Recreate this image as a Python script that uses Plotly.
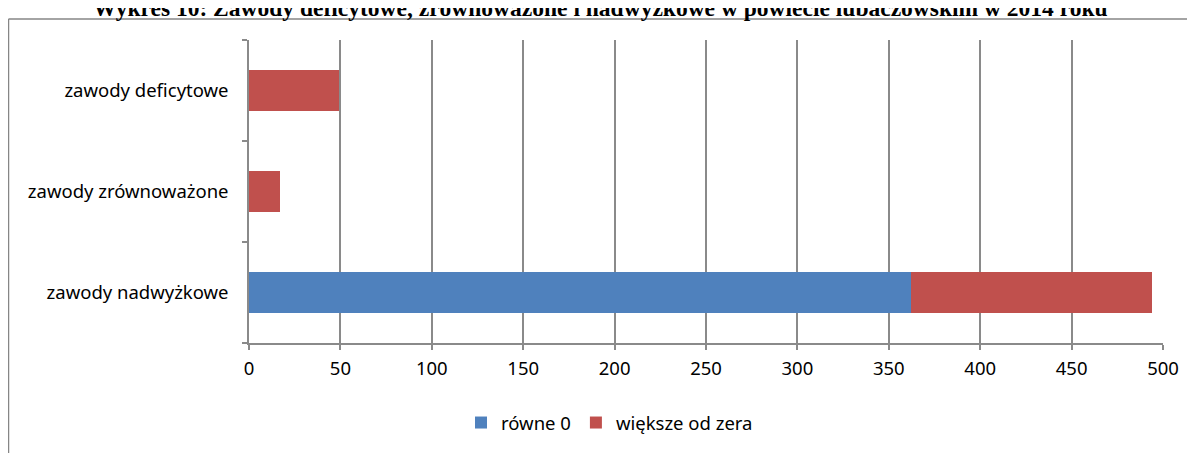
import plotly.graph_objects as go

categories = ["zawody nadwyżkowe", "zawody zrównoważone", "zawody deficytowe"]
rowne_0 = [362, 0, 0]
wieksze_od_zera = [132, 17, 49]
x_ticks = [0, 50, 100, 150, 200, 250, 300, 350, 400, 450, 500]
title_text = "Wykres 10: Zawody deficytowe, zrównoważone i nadwyżkowe w powiecie lubaczowskim w 2014 roku"

OFF = 8  # page body margin
W, H = 1195 - OFF, 453 - OFF
L, R, T, B = 249 - OFF, 32, 40 - OFF, 109
pw, ph = W - L - R, H - T - B

def px2x(px):
    return (px - OFF - L) / pw

def py2y(py):
    return (H - B - (py - OFF)) / ph

fig = go.Figure()
fig.add_trace(go.Bar(y=categories, x=rowne_0, orientation="h", name="równe 0",
                     marker=dict(color="#4F81BD", line=dict(width=0))))
fig.add_trace(go.Bar(y=categories, x=wieksze_od_zera, orientation="h", name="większe od zera",
                     marker=dict(color="#C0504D", line=dict(width=0))))

font_family = "Noto Sans, Open Sans, Liberation Sans, sans-serif"
border = dict(color="#868686", width=1.5)

fig.update_layout(
    width=W, height=H,
    margin=dict(l=L, r=R, t=T, b=B),
    barmode="stack",
    bargap=0.6,
    plot_bgcolor="white",
    paper_bgcolor="white",
    font=dict(family=font_family, size=18.5, color="black"),
    showlegend=True,
    legend=dict(orientation="h", x=px2x(461), xanchor="left", y=py2y(423), yanchor="middle",
                font=dict(size=18.5), traceorder="normal", itemwidth=30,
                bgcolor="rgba(0,0,0,0)"),
    xaxis=dict(range=[0, 500], tickvals=x_ticks, showgrid=True, gridcolor="#8a8a8a", gridwidth=1.5,
               showline=True, linecolor="#8a8a8a", linewidth=1.5, ticks="outside", ticklen=5,
               tickcolor="#8a8a8a", tickwidth=1.5, zeroline=False, fixedrange=True,
               ticklabelstandoff=3),
    yaxis=dict(showgrid=False, showline=True, linecolor="#8a8a8a", linewidth=1.5,
               ticks="outside", ticklen=5, tickcolor="#8a8a8a", tickwidth=1.5,
               tickson="boundaries", ticklabelstandoff=15, zeroline=False),
    annotations=[dict(text="<b>" + title_text + "</b>", xref="paper", yref="paper",
                      x=px2x(600), y=py2y(23), xanchor="center", yanchor="bottom",
                      showarrow=False,
                      font=dict(family="Liberation Serif, Times New Roman, serif", size=23.5, color="black"))],
    shapes=[
        dict(type="line", xref="paper", yref="paper",
             x0=px2x(8.5), x1=px2x(8.5), y0=py2y(19), y1=py2y(470), line=border, layer="below"),
        dict(type="line", xref="paper", yref="paper",
             x0=px2x(8.5), x1=px2x(1200), y0=py2y(19), y1=py2y(19), line=border, layer="below"),
    ],
)

fig.write_html("out.html")
